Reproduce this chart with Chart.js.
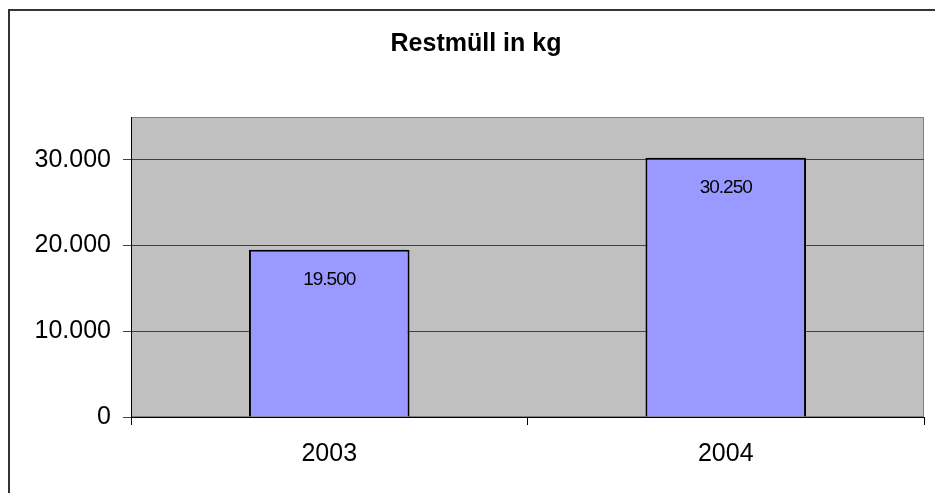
<!DOCTYPE html>
<html>
<head>
<meta charset="utf-8">
<script src="https://cdn.jsdelivr.net/npm/chart.js@4"></script>
<style>
    html, body { margin: 0; padding: 0; background: #fff; }
    #wrap { position: relative; width: 935px; height: 493px; overflow: hidden; }
    #frame {
        position: absolute; left: 8px; top: 9px; width: 1000px; height: 600px;
        border-left: 2px solid #333; border-top: 2px solid #333;
    }
    #chart { position: absolute; left: 0; top: 0; }
</style>
</head>
<body>
<div id="wrap">
    <div id="frame"></div>
    <canvas id="chart" width="935" height="493"></canvas>
</div>
<script>
/* Restmüll chart — data */
const years       = ["2003", "2004"];
const wasteKg     = [19500, 30250];
const yTickValues = [0, 10000, 20000, 30000];
const chartTitle  = "Restmüll in kg";

const FONT = "'Liberation Sans', Arial, sans-serif";

// German thousands separator: 30000 -> "30.000"
function formatDe(v) {
    return String(v).replace(/\B(?=(\d{3})+(?!\d))/g, ".");
}

// --- gray plot area with its thin border ---
const plotAreaBackground = {
    id: "plotAreaBackground",
    beforeDraw(chart) {
        const { ctx, chartArea: a } = chart;
        ctx.save();
        ctx.fillStyle = "#c0c0c0";
        ctx.fillRect(a.left, a.top, a.right - a.left, a.bottom - a.top);
        ctx.strokeStyle = "#808080";
        ctx.lineWidth = 1;
        ctx.strokeRect(a.left + 0.5, a.top + 0.5, a.right - a.left - 1, a.bottom - a.top - 1);
        ctx.restore();
    }
};

// --- value labels just below the top of each bar ---
const barValueLabels = {
    id: "barValueLabels",
    afterDatasetsDraw(chart) {
        const { ctx } = chart;
        const meta = chart.getDatasetMeta(0);
        ctx.save();
        ctx.font = "19px " + FONT;
        ctx.letterSpacing = "-1px";
        ctx.fillStyle = "#000";
        ctx.textAlign = "center";
        ctx.textBaseline = "middle";
        meta.data.forEach((bar, i) => {
            ctx.fillText(formatDe(wasteKg[i]), bar.x, bar.y + 30);
        });
        ctx.restore();
    }
};

new Chart(document.getElementById("chart"), {
    type: "bar",
    data: {
        labels: years,
        datasets: [{
            label: chartTitle,
            data: wasteKg,
            backgroundColor: "#9999ff",
            borderColor: "#000",
            borderWidth: 2,
            categoryPercentage: 1,
            barPercentage: 0.405
        }]
    },
    options: {
        responsive: false,
        animation: false,
        layout: { padding: { left: 28, right: 11, top: 0, bottom: 0 } },
        plugins: {
            legend: { display: false },
            tooltip: { enabled: false },
            title: {
                display: true,
                text: chartTitle,
                color: "#000",
                font: { family: FONT, size: 25, weight: "bold" },
                padding: { top: 29, bottom: 58 }
            }
        },
        scales: {
            x: {
                grid: {
                    offset: true,
                    drawOnChartArea: false,
                    drawTicks: true,
                    tickLength: 8,
                    color: "#000"
                },
                border: { color: "#000", width: 1 },
                ticks: {
                    color: "#000",
                    padding: 14,
                    font: { family: FONT, size: 25 }
                },
                afterFit(scale) { scale.height = 76; }
            },
            y: {
                min: 0,
                max: 35000,
                afterBuildTicks(scale) {
                    scale.ticks = yTickValues.map(v => ({ value: v }));
                },
                grid: {
                    color: "#404040",
                    lineWidth: 1,
                    tickLength: 8
                },
                border: { color: "#000", width: 1 },
                ticks: {
                    color: "#000",
                    padding: 12,
                    font: { family: FONT, size: 25 },
                    callback: v => formatDe(v)
                },
                afterFit(scale) { scale.width = 103; }
            }
        }
    },
    plugins: [plotAreaBackground, barValueLabels]
});
</script>
</body>
</html>
